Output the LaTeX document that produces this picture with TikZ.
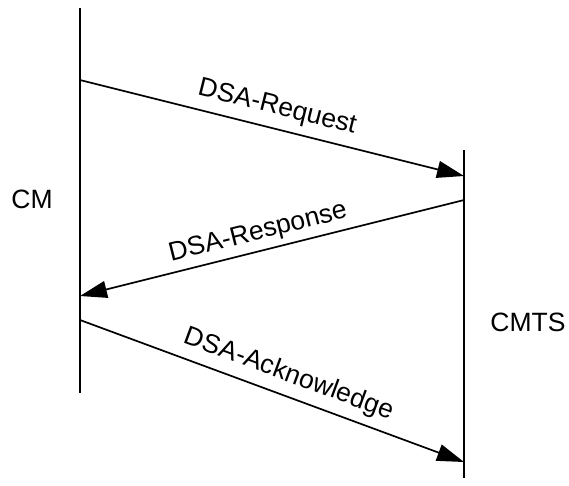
\documentclass[tikz,border=0pt]{standalone}
\usepackage{fontspec}
\setmainfont{Liberation Sans}
\usetikzlibrary{positioning,arrows.meta}

\begin{document}
\begin{tikzpicture}[
  x=1pt, y=-1pt,
  lifeline/.style={line width=1.7pt, draw=black},
  msg/.style={-{Triangle[length=27pt,width=17pt]}, line width=1.7pt, draw=black},
  msglabel/.style={sloped, above, inner sep=8pt, font=\fontsize{26.5}{30}\selectfont},
  party/.style={font=\fontsize{26.5}{30}\selectfont, inner sep=0pt}
]
\useasboundingbox (0,0) rectangle (569,485);
% lifelines
\coordinate (cmTop) at (80,8);
\coordinate (cmBot) at (80,393);
\coordinate (cmtsTop) at (464,150);
\coordinate (cmtsBot) at (464,478);
\draw[lifeline] (cmTop) -- (cmBot);
\draw[lifeline] (cmtsTop) -- (cmtsBot);
\node[party] (cm) at (32,199) {CM};
\node[party] (cmts) at (528,322) {CMTS};
% message end points
\coordinate (reqS) at (80,80);
\coordinate (reqE) at (464,176);
\coordinate (rspS) at (464,200);
\coordinate (rspE) at (80,296);
\coordinate (ackS) at (80,320);
\coordinate (ackE) at (464,462);
% messages
\draw[msg] (reqS) -- node[msglabel] (req) {DSA-Request} (reqE);
\draw[msg] (rspS) -- node[msglabel, pos=0.525, inner sep=5pt] (rsp) {DSA-Response} (rspE);
\draw[msg] (ackS) -- node[msglabel, pos=0.525] (ack) {DSA-Acknowledge} (ackE);
\end{tikzpicture}
\end{document}
